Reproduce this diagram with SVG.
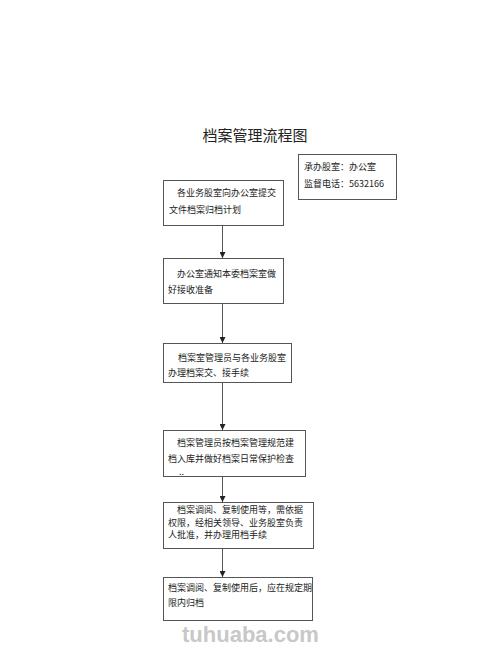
<svg xmlns="http://www.w3.org/2000/svg" width="500" height="647" viewBox="0 0 500 647">
<defs>
<style>
.box{fill:#fff;stroke:#555;stroke-width:1}
.t{font-family:"Noto Sans CJK SC","Liberation Sans",sans-serif;font-size:9px;fill:#222}
.title{font-family:"Noto Sans CJK SC",sans-serif;font-size:15px;fill:#222}
.ln{stroke:#555;stroke-width:1;fill:none}
.wm{font-family:"Liberation Sans",sans-serif;font-size:22px;font-weight:bold;fill:#c8c8c8}
</style>
<marker id="ah" viewBox="0 0 6 6" refX="6" refY="3" markerWidth="6" markerHeight="6" orient="auto" markerUnits="userSpaceOnUse">
<path d="M0,0 L6,3 L0,6 Z" fill="#222"/>
</marker>
</defs>
<rect width="500" height="647" fill="#fff"/>
<text class="title" x="255" y="141" text-anchor="middle">档案管理流程图</text>
<g id="info">
<rect class="box" x="298.5" y="154.5" width="98" height="45"/>
<text class="t" x="304" y="170">承办股室：办公室</text>
<text class="t" x="304" y="187">监督电话：5632166</text>
</g>
<g id="n1">
<rect class="box" x="163.5" y="180.5" width="120" height="45"/>
<text class="t" x="177" y="196">各业务股室向办公室提交</text>
<text class="t" x="169" y="213">文件档案归档计划</text>
</g>
<g id="n2">
<rect class="box" x="163.5" y="258.5" width="120" height="45"/>
<text class="t" x="177" y="277">办公室通知本委档案室做</text>
<text class="t" x="168" y="293">好接收准备</text>
</g>
<g id="n3">
<rect class="box" x="163.5" y="343.5" width="128" height="39"/>
<text class="t" x="178" y="361">档案室管理员与各业务股室</text>
<text class="t" x="168" y="376">办理档案交、接手续</text>
</g>
<g id="n4">
<rect class="box" x="163.5" y="430.5" width="142" height="46"/>
<text class="t" x="177" y="446">档案管理员按档案管理规范建</text>
<text class="t" x="168" y="462">档入库并做好档案日常保护检查</text>
<text class="t" x="179" y="475" font-size="6">..</text>
</g>
<g id="n5">
<rect class="box" x="163.5" y="502.5" width="150" height="46"/>
<text class="t" x="177" y="513">档案调阅、复制使用等，需依据</text>
<text class="t" x="168" y="526">权限，经相关领导、业务股室负责</text>
<text class="t" x="168" y="538">人批准，并办理用档手续</text>
</g>
<g id="n6">
<rect class="box" x="163.5" y="577.5" width="149" height="43"/>
<text class="t" x="168" y="591">档案调阅、复制使用后，应在规定期</text>
<text class="t" x="168" y="606">限内归档</text>
</g>
<g id="connectors">
<line class="ln" x1="222.5" y1="226" x2="222.5" y2="258" marker-end="url(#ah)"/>
<line class="ln" x1="222.5" y1="304" x2="222.5" y2="343" marker-end="url(#ah)"/>
<line class="ln" x1="222.5" y1="383" x2="222.5" y2="430" marker-end="url(#ah)"/>
<line class="ln" x1="222.5" y1="477" x2="222.5" y2="502" marker-end="url(#ah)"/>
<line class="ln" x1="222.5" y1="549" x2="222.5" y2="577" marker-end="url(#ah)"/>
</g>
<text class="wm" x="182" y="642">tuhuaba.com</text>
</svg>
